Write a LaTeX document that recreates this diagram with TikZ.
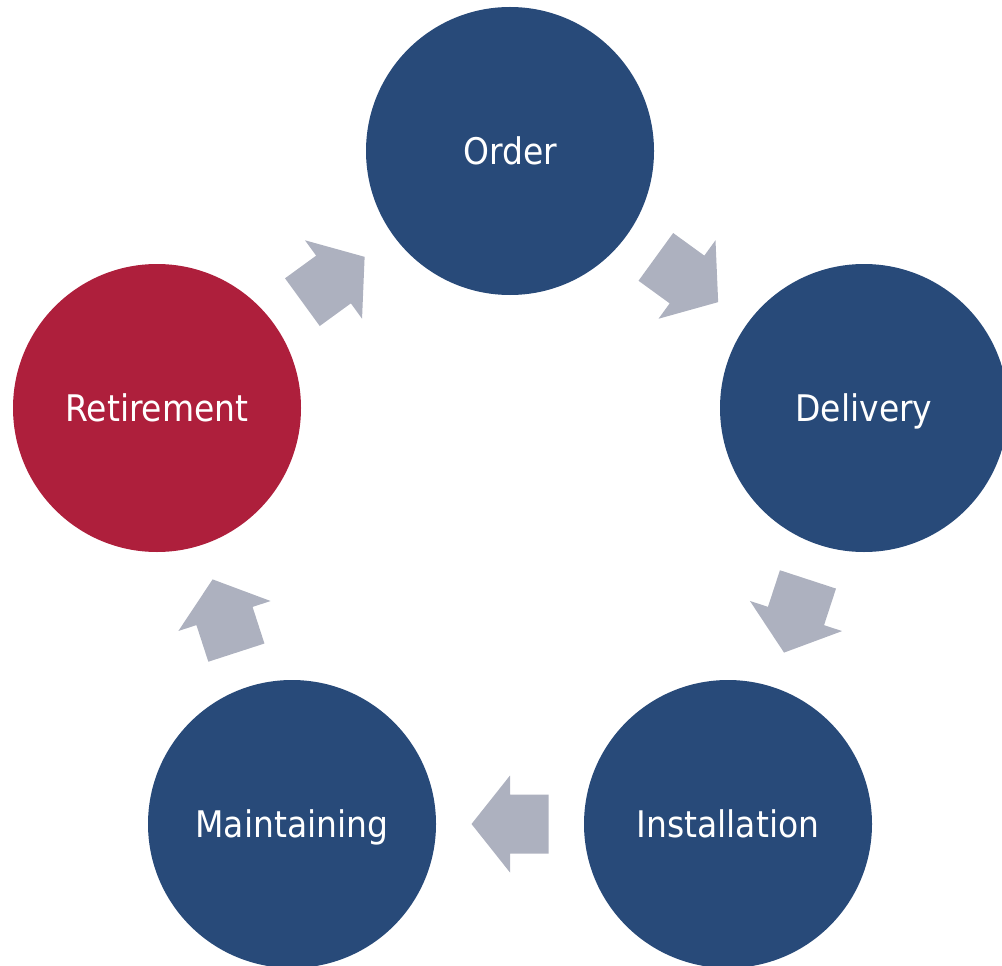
\documentclass[tikz,border=0pt]{standalone}
\usepackage{fontspec}
\setmainfont{DejaVu Sans Condensed}
\usetikzlibrary{calc}
\definecolor{stepblue}{RGB}{40,74,121}
\definecolor{stepred}{RGB}{174,31,60}
\definecolor{arrowgray}{RGB}{173,177,191}
\tikzset{
  stage/.style={circle, minimum size=216pt, inner sep=0pt, fill=stepblue, text=white,
    text height=20pt, text depth=0pt,
    font=\fontsize{27.5}{32}\selectfont},
}
\newcommand\flowarrow[2]{%
  \fill[arrowgray] let \p1=($(#2)-(#1)$), \n1={atan2(\y1,\x1)} in
    [shift={($(#1)!0.5!(#2)$)}, rotate=\n1]
    (38.5,0) -- (0,48.5) -- (0,29.5) -- (-38.5,29.5) -- (-38.5,-29.5) -- (0,-29.5) -- (0,-48.5) -- cycle;}
\begin{document}
\begin{tikzpicture}[x=0.75pt, y=-0.75pt]
\useasboundingbox (0,0) rectangle (1002,966);
\node[stage] (order) at (510,151) {Order};
\node[stage] (delivery) at (864,408) {Delivery};
\node[stage] (install) at (728,824) {Installation};
\node[stage] (maint) at (292,824) {Maintaining};
\node[stage, fill=stepred] (retire) at (157,408) {Retirement};
\flowarrow{order}{delivery}
\flowarrow{delivery}{install}
\flowarrow{install}{maint}
\flowarrow{maint}{retire}
\flowarrow{retire}{order}
\end{tikzpicture}
\end{document}
